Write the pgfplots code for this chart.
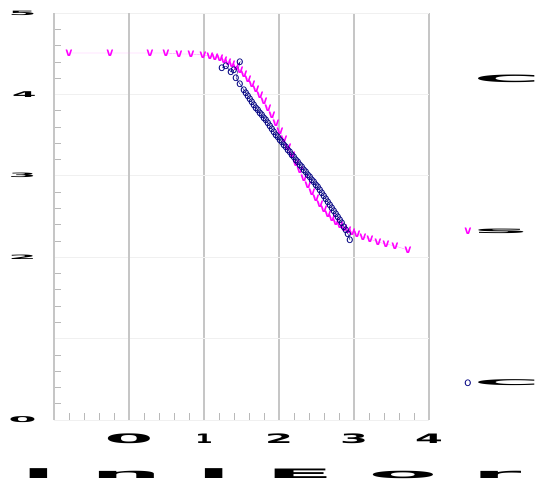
\documentclass[border=0pt]{standalone}
\usepackage{fontspec}
\setmainfont{DejaVu Sans}
\usepackage{pgfplots}
\pgfplotsset{compat=1.18}
\usepackage{graphicx}
\definecolor{navyb}{RGB}{0,0,128}
\definecolor{magv}{RGB}{255,0,255}
\newcommand{\sq}[3]{\scalebox{#1}[#2]{\bfseries #3}}
\begin{document}
\begin{tikzpicture}
\useasboundingbox (0,0) rectangle (539pt,488pt);
\begin{axis}[
  at={(54pt,68pt)}, anchor=south west,
  scale only axis, width=375pt, height=407pt,
  xmin=0, xmax=5, ymin=0, ymax=5,
  xtick={0,...,5}, ytick={0,...,5},
  xticklabels={,\sq{7}{1.3}{0},\sq{2.5}{1.3}{1},\sq{4}{1.3}{2},\sq{4}{1.3}{3},\sq{4}{1.3}{4}},
  yticklabels={\sq{4}{0.8}{0},,\sq{4}{0.6}{2},\sq{4}{0.6}{3},\sq{3.5}{0.8}{4},\sq{4}{0.6}{5}},
  yticklabel style={xshift=-14pt},
  xticklabel style={yshift=-10pt},
  minor x tick num=4, minor y tick num=4,
  tick align=inside, xtick pos=bottom, ytick pos=left,
  major tick length=0pt, minor tick length=7pt,
  minor tick style={gray!55, line width=0.6pt},
  axis line style={draw=none},
  xmajorgrids, ymajorgrids,
  x grid style={gray!45, line width=1.6pt},
  y grid style={gray!12, line width=0.8pt},
  extra x ticks={0,1}, extra x tick labels={},
  extra x tick style={grid style={gray!85, line width=1.6pt}},
  xlabel={\sq{10}{1.3}{l n l E o r}},
  xlabel style={at={(axis description cs:0.58,-0.112)}, anchor=north},
  legend style={at={(axis description cs:1.07,0.858)}, anchor=north west,
    draw=none, fill=none, row sep=141pt, cells={anchor=west}, font=\Large},
  legend cell align=left,
  legend image code/.code={\path[mark options={scale=1.7}] plot coordinates {(0.2cm,0cm)};},
  text mark as node=true,
]
\addlegendimage{empty legend}
\addlegendentry{\sq{6.3}{0.7}{C}}
\addplot[color=magv!40, line width=0.4pt, mark=text, text mark={v},
  mark options={magv},
  text mark style={text=magv, font=\sffamily\bfseries\Large, inner sep=0pt}] coordinates {
(0.200,4.509)(0.747,4.509)(1.280,4.509)(1.493,4.509)(1.667,4.496)(1.827,4.496)
(1.987,4.484)(2.080,4.472)(2.147,4.459)(2.213,4.447)(2.267,4.423)(2.320,4.398)
(2.373,4.373)(2.427,4.337)(2.480,4.300)(2.533,4.251)(2.587,4.189)(2.640,4.128)
(2.693,4.066)(2.747,3.993)(2.800,3.919)(2.853,3.833)(2.907,3.747)(2.960,3.649)
(3.013,3.550)(3.067,3.452)(3.120,3.354)(3.173,3.256)(3.227,3.157)(3.280,3.071)
(3.333,2.973)(3.387,2.887)(3.440,2.801)(3.493,2.727)(3.547,2.654)(3.600,2.592)
(3.653,2.531)(3.707,2.482)(3.760,2.432)(3.813,2.396)(3.867,2.359)(3.920,2.334)
(3.973,2.310)(4.040,2.285)(4.120,2.248)(4.213,2.224)(4.320,2.187)(4.427,2.162)
(4.547,2.138)(4.720,2.088)
};
\addlegendentry{\sq{6.3}{0.55}{s}}
\addplot[color=navyb, line width=0.4pt, mark=text, text mark={o},
  mark options={navyb},
  text mark style={text=navyb, font=\sffamily\Large, inner sep=0pt}] coordinates {
(2.240,4.324)(2.293,4.349)(2.360,4.275)(2.400,4.300)(2.480,4.398)(2.427,4.201)
(2.480,4.128)(2.533,4.054)(2.560,4.017)(2.587,3.980)(2.613,3.944)(2.640,3.907)
(2.667,3.870)(2.693,3.833)(2.720,3.802)(2.747,3.771)(2.773,3.740)(2.800,3.710)
(2.827,3.680)(2.853,3.649)(2.880,3.612)(2.907,3.575)(2.933,3.538)(2.960,3.501)
(2.987,3.470)(3.013,3.440)(3.040,3.409)(3.067,3.378)(3.093,3.347)(3.120,3.317)
(3.147,3.286)(3.173,3.256)(3.200,3.225)(3.227,3.194)(3.253,3.163)(3.280,3.133)
(3.307,3.102)(3.333,3.071)(3.360,3.040)(3.387,3.010)(3.413,2.979)(3.440,2.948)
(3.467,2.917)(3.493,2.887)(3.520,2.856)(3.547,2.826)(3.573,2.789)(3.600,2.752)
(3.627,2.715)(3.653,2.678)(3.680,2.641)(3.707,2.604)(3.733,2.568)(3.760,2.531)
(3.787,2.494)(3.813,2.457)(3.840,2.414)(3.867,2.371)(3.893,2.328)(3.920,2.285)
(3.947,2.211)
};
\addlegendentry{\sq{6.3}{0.55}{C}}
\end{axis}
\end{tikzpicture}
\end{document}
